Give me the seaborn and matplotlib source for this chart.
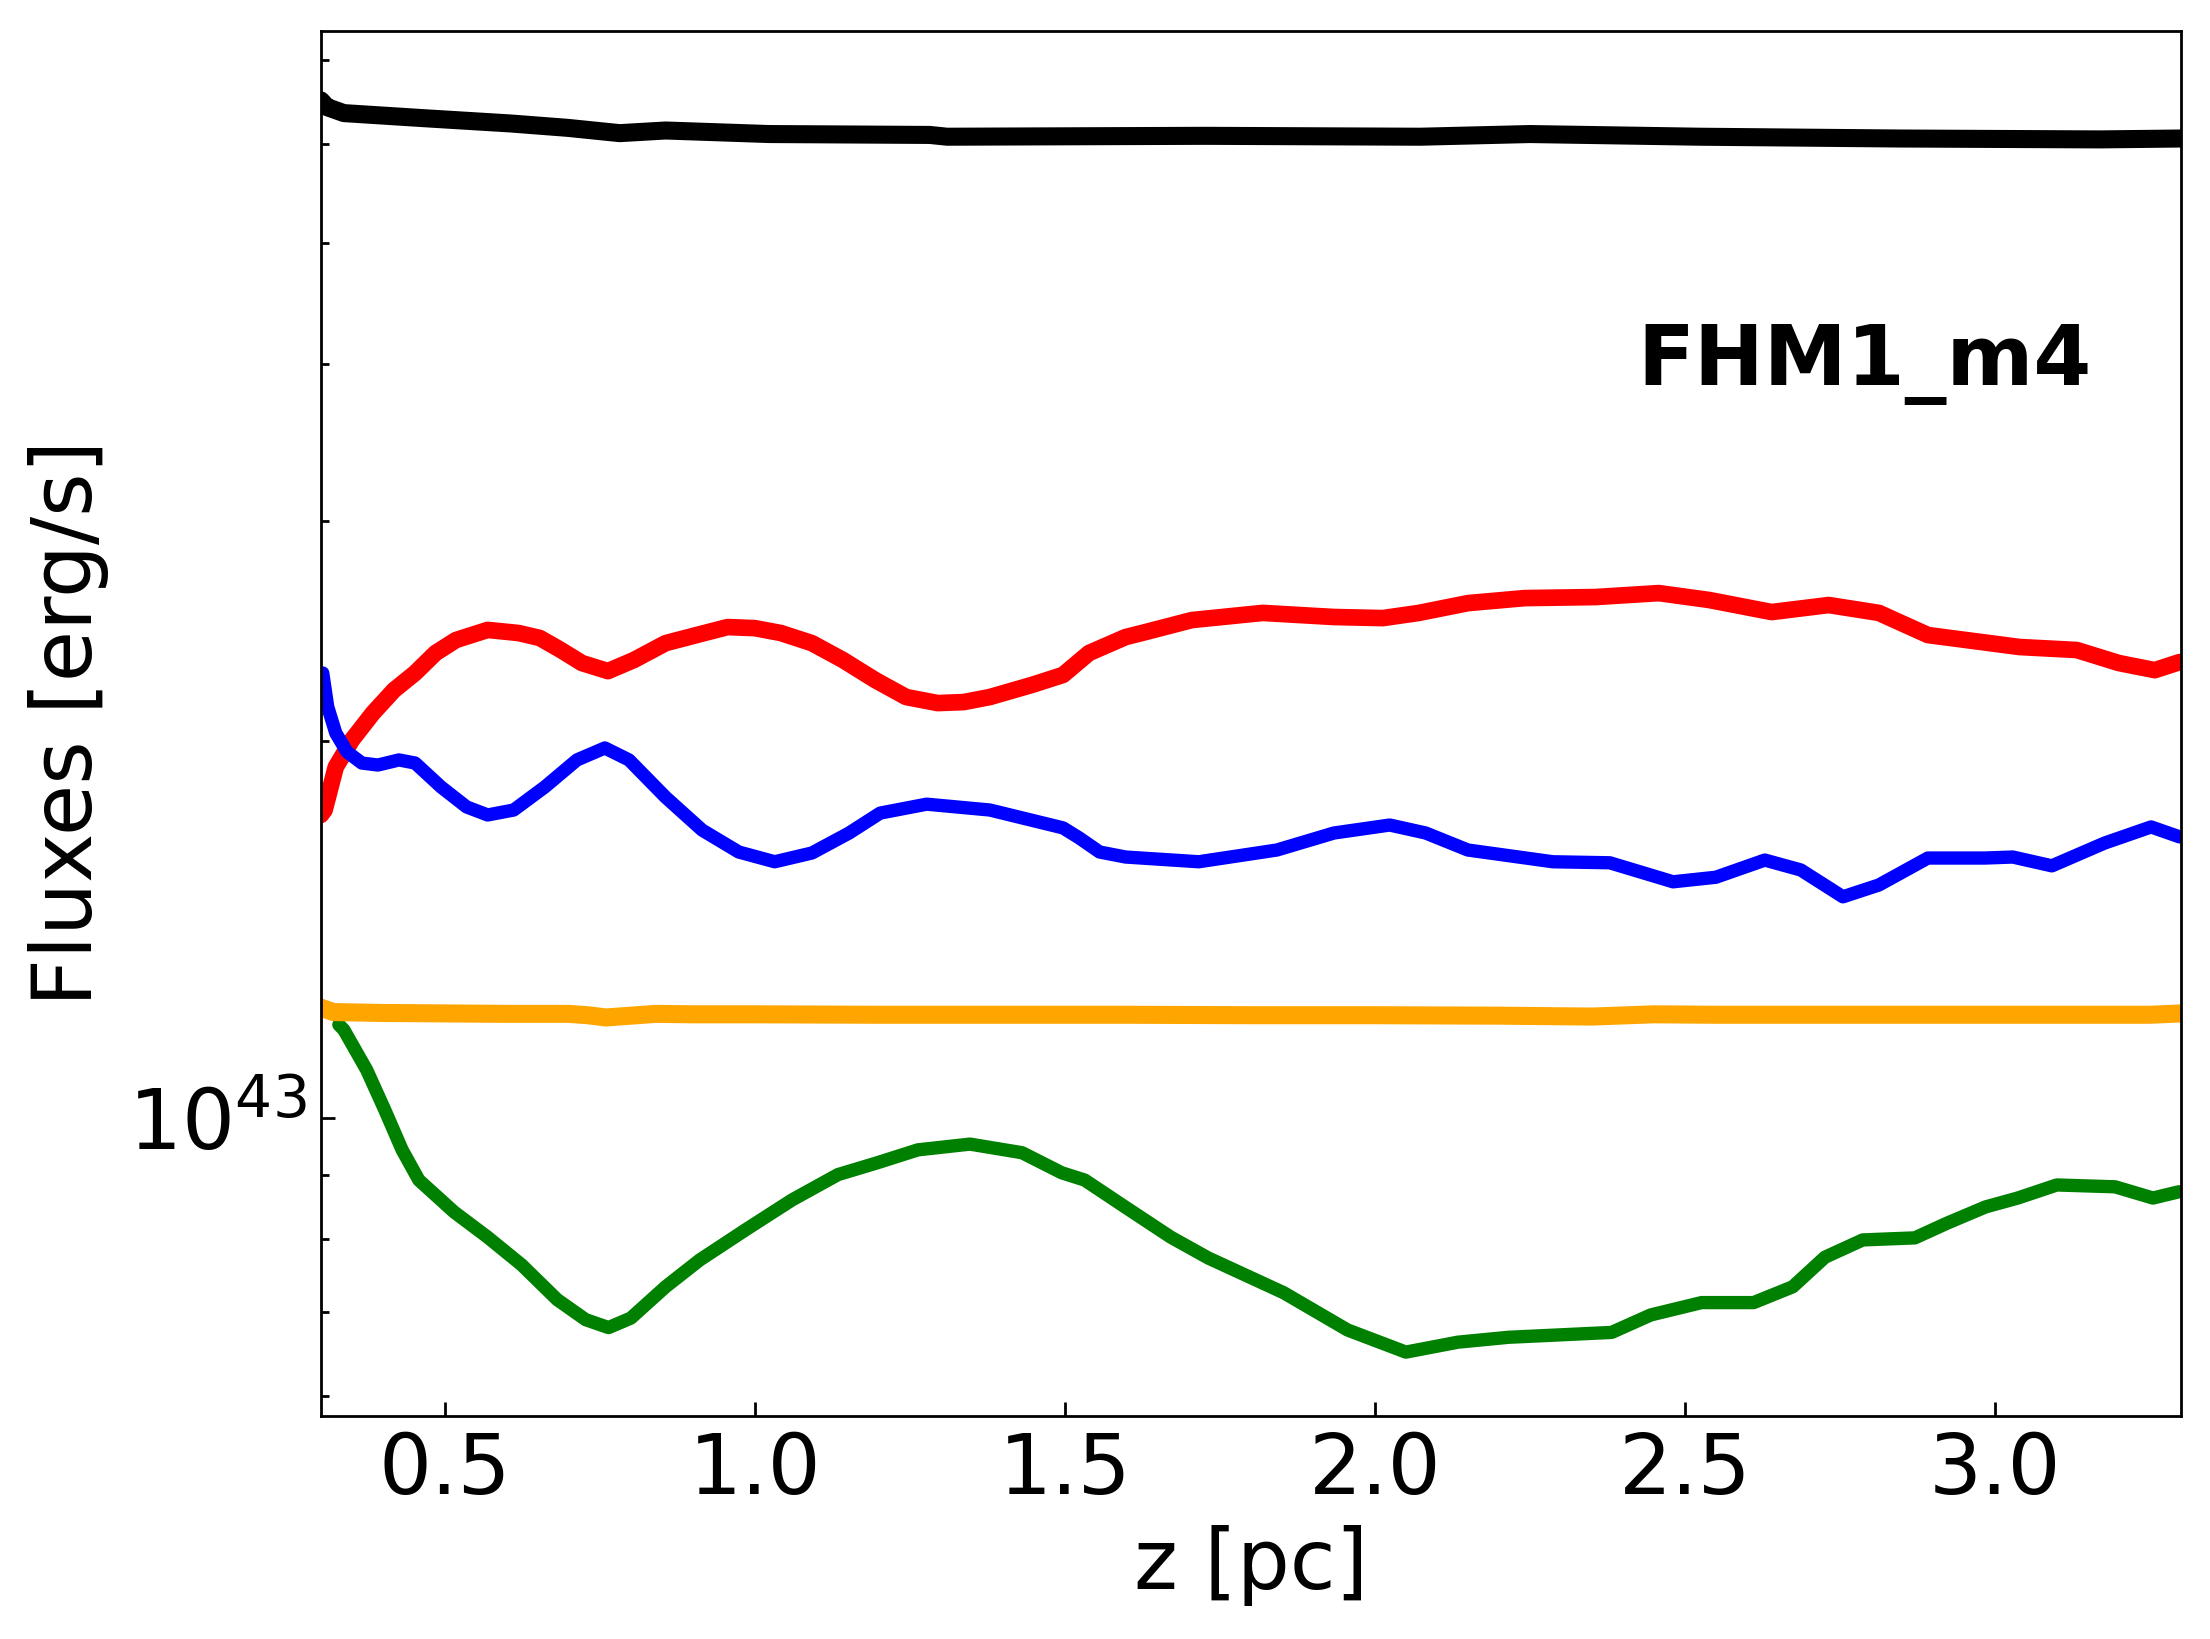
import matplotlib
matplotlib.use("Agg")
import matplotlib.pyplot as plt
import matplotlib.ticker as mticker
import numpy as np
import pandas as pd
import seaborn as sns

# z [pc] and flux in units of 1e43 erg/s
z_black = [0.300, 0.310, 0.337, 0.468, 0.606, 0.698, 0.782, 0.856, 1.023, 1.282, 1.310,
           1.726, 2.073, 2.250, 2.524, 2.847, 3.169, 3.300]
f_black = [6.50, 6.42, 6.35, 6.29, 6.23, 6.18, 6.12, 6.15, 6.11, 6.10, 6.08,
           6.09, 6.08, 6.11, 6.08, 6.06, 6.05, 6.06]

z_red = [0.300, 0.306, 0.324, 0.350, 0.384, 0.418, 0.452, 0.485, 0.518, 0.569, 0.619,
         0.653, 0.687, 0.721, 0.763, 0.805, 0.856, 0.906, 0.956, 1.000, 1.042, 1.092,
         1.142, 1.194, 1.244, 1.295, 1.337, 1.379, 1.447, 1.497, 1.539, 1.598, 1.624,
         1.705, 1.819, 1.934, 2.013, 2.071, 2.150, 2.242, 2.356, 2.458, 2.539, 2.640,
         2.732, 2.813, 2.892, 3.040, 3.132, 3.200, 3.258, 3.298]
f_red = [1.746, 1.762, 1.907, 2.004, 2.106, 2.197, 2.267, 2.352, 2.409, 2.454, 2.440,
         2.418, 2.365, 2.309, 2.275, 2.322, 2.395, 2.431, 2.467, 2.462, 2.440, 2.395,
         2.322, 2.238, 2.169, 2.145, 2.149, 2.169, 2.218, 2.259, 2.352, 2.422, 2.440,
         2.499, 2.532, 2.513, 2.508, 2.532, 2.578, 2.602, 2.607, 2.626, 2.593, 2.536,
         2.569, 2.532, 2.431, 2.378, 2.365, 2.309, 2.279, 2.313]

z_blue = [0.303, 0.311, 0.324, 0.342, 0.366, 0.392, 0.426, 0.452, 0.494, 0.535, 0.569,
          0.611, 0.661, 0.713, 0.758, 0.797, 0.856, 0.915, 0.974, 1.032, 1.092, 1.152,
          1.202, 1.277, 1.379, 1.497, 1.523, 1.556, 1.598, 1.716, 1.842, 1.934, 2.024,
          2.082, 2.150, 2.287, 2.379, 2.481, 2.550, 2.629, 2.687, 2.755, 2.813, 2.892,
          2.984, 3.029, 3.092, 3.177, 3.252, 3.298]
f_blue = [2.267, 2.130, 2.030, 1.961, 1.921, 1.914, 1.932, 1.921, 1.838, 1.772, 1.746,
          1.762, 1.838, 1.932, 1.975, 1.932, 1.804, 1.698, 1.631, 1.602, 1.628, 1.689,
          1.752, 1.781, 1.762, 1.705, 1.674, 1.631, 1.616, 1.602, 1.637, 1.689, 1.714,
          1.689, 1.637, 1.602, 1.599, 1.544, 1.557, 1.607, 1.578, 1.502, 1.535, 1.613,
          1.613, 1.616, 1.590, 1.658, 1.708, 1.677]

z_green = [0.329, 0.337, 0.374, 0.403, 0.431, 0.458, 0.515, 0.569, 0.624, 0.681, 0.727,
           0.764, 0.800, 0.856, 0.911, 0.985, 1.060, 1.134, 1.198, 1.263, 1.347, 1.431,
           1.495, 1.532, 1.597, 1.671, 1.731, 1.853, 1.956, 2.050, 2.134, 2.216, 2.300,
           2.382, 2.445, 2.527, 2.611, 2.674, 2.726, 2.787, 2.871, 2.923, 2.985, 3.037,
           3.100, 3.194, 3.255, 3.297]
f_green = [1.187, 1.176, 1.092, 1.015, 0.943, 0.892, 0.841, 0.803, 0.763, 0.716, 0.690,
           0.680, 0.692, 0.733, 0.770, 0.814, 0.860, 0.901, 0.921, 0.943, 0.953, 0.938,
           0.904, 0.892, 0.849, 0.803, 0.773, 0.725, 0.677, 0.650, 0.662, 0.668, 0.671,
           0.674, 0.696, 0.712, 0.712, 0.733, 0.774, 0.799, 0.802, 0.824, 0.849, 0.863,
           0.884, 0.881, 0.863, 0.873]

z_orange = [0.300, 0.320, 0.400, 0.500, 0.600, 0.700, 0.730, 0.760, 0.800, 0.840, 0.900,
            1.000, 1.200, 1.400, 1.600, 1.800, 2.000, 2.200, 2.350, 2.450, 2.550, 2.650,
            2.800, 3.000, 3.150, 3.250, 3.300]
f_orange = [1.225, 1.215, 1.213, 1.212, 1.211, 1.211, 1.208, 1.203, 1.207, 1.211, 1.210,
            1.210, 1.209, 1.209, 1.209, 1.208, 1.208, 1.207, 1.205, 1.210, 1.209, 1.209,
            1.209, 1.209, 1.209, 1.209, 1.212]

sns.set_style("white")
plt.rcParams['font.family'] = ['DejaVu Sans']
plt.rcParams['mathtext.fontset'] = 'dejavusans'
plt.rcParams['text.color'] = 'black'
plt.rcParams['axes.labelcolor'] = 'black'
plt.rcParams['xtick.color'] = 'black'
plt.rcParams['ytick.color'] = 'black'

fig = plt.figure(figsize=(11.05, 8.195), dpi=200)
ax = fig.add_axes([0.1452, 0.1361, 0.8416, 0.8452])

series = [
    (z_black, f_black, "black", 6.5),
    (z_red, f_red, "red", 6.0),
    (z_blue, f_blue, "blue", 4.8),
    (z_green, f_green, "green", 4.8),
    (z_orange, f_orange, "orange", 6.5),
]
for z, f, c, lw in series:
    df = pd.DataFrame({"z": z, "flux": np.array(f) * 1e43})
    sns.lineplot(data=df, x="z", y="flux", color=c, linewidth=lw, ax=ax,
                 sort=False, errorbar=None, solid_joinstyle="round")

ax.set_yscale("log")
ax.set_xlim(0.3, 3.3)
ax.set_ylim(5.78e42, 7.39e43)
ax.xaxis.set_major_locator(mticker.MultipleLocator(0.5))
ax.yaxis.set_minor_formatter(mticker.NullFormatter())

ax.tick_params(which="both", direction="in", left=True, bottom=True,
               right=False, top=False, width=1.0, color="black")
ax.tick_params(which="major", length=5, labelsize=30, pad=5, labelcolor="black")
ax.tick_params(which="minor", length=3)
for sp in ax.spines.values():
    sp.set_color("black")
    sp.set_linewidth(1.0)

ax.set_xlabel("z [pc]", fontsize=30, labelpad=5, color="black")
ax.set_ylabel("Fluxes [erg/s]", fontsize=30, labelpad=7, color="black")
ax.text(0.952, 0.744, "FHM1_m4", transform=ax.transAxes, fontsize=30,
        fontweight="bold", ha="right", va="baseline", color="black")

fig.savefig("out.png", dpi=200)
